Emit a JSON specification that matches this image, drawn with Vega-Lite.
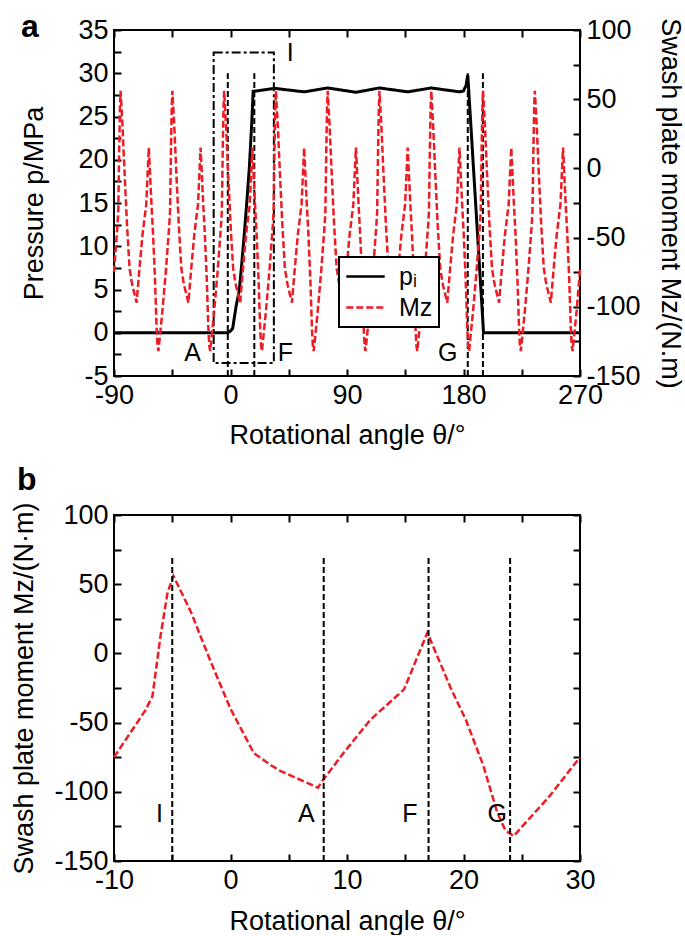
{
  "$schema": "https://vega.github.io/schema/vega-lite/v6.json",
  "padding": {"left": 9, "top": 10, "right": 0, "bottom": 0},
  "config": {
    "font": "Liberation Sans",
    "view": {"stroke": "black", "strokeWidth": 2},
    "axis": {
      "domain": false, "grid": false, "tickColor": "black", "tickWidth": 2, "tickSize": -7, "zindex": 1,
      "labelFontSize": 27, "labelColor": "black", "labelPadding": 13, "labelFlush": false,
      "labelOverlap": false, "labelBound": false,
      "titleFontSize": 27, "titleFontWeight": "normal", "titleColor": "black"
    },
    "title": {"fontSize": 32, "fontWeight": "bold", "anchor": "start", "frame": "bounds", "color": "black"},
    "legend": {"strokeWidth": 2}
  },
  "datasets": {
    "mz": [
      {"angle": -90, "mz": -75}, {"angle": -87.3, "mz": -41}, {"angle": -86.7, "mz": -31}, {"angle": -86, "mz": 13}, {"angle": -85.4, "mz": 44},
      {"angle": -84.9, "mz": 56}, {"angle": -83.4, "mz": 30}, {"angle": -81.7, "mz": -6}, {"angle": -80, "mz": -40}, {"angle": -78, "mz": -72},
      {"angle": -76.5, "mz": -81}, {"angle": -75.7, "mz": -85}, {"angle": -72.5, "mz": -97}, {"angle": -72.1, "mz": -92}, {"angle": -70.3, "mz": -72},
      {"angle": -68, "mz": -48}, {"angle": -65.1, "mz": -26}, {"angle": -63.1, "mz": 15}, {"angle": -61.1, "mz": -25}, {"angle": -59.8, "mz": -48},
      {"angle": -58.3, "mz": -81}, {"angle": -57.1, "mz": -115}, {"angle": -56.4, "mz": -128}, {"angle": -55.7, "mz": -132}, {"angle": -52.6, "mz": -103},
      {"angle": -50, "mz": -75}, {"angle": -47.3, "mz": -41}, {"angle": -46.7, "mz": -31}, {"angle": -46, "mz": 13}, {"angle": -45.4, "mz": 44},
      {"angle": -44.9, "mz": 56}, {"angle": -43.4, "mz": 30}, {"angle": -41.7, "mz": -6}, {"angle": -40, "mz": -40}, {"angle": -38, "mz": -72},
      {"angle": -36.5, "mz": -81}, {"angle": -35.7, "mz": -85}, {"angle": -32.5, "mz": -97}, {"angle": -32.1, "mz": -92}, {"angle": -30.3, "mz": -72},
      {"angle": -28, "mz": -48}, {"angle": -25.1, "mz": -26}, {"angle": -23.1, "mz": 15}, {"angle": -21.1, "mz": -25}, {"angle": -19.8, "mz": -48},
      {"angle": -18.3, "mz": -81}, {"angle": -17.1, "mz": -115}, {"angle": -16.4, "mz": -128}, {"angle": -15.7, "mz": -132}, {"angle": -12.6, "mz": -103},
      {"angle": -10, "mz": -75}, {"angle": -7.3, "mz": -41}, {"angle": -6.7, "mz": -31}, {"angle": -6, "mz": 13}, {"angle": -5.4, "mz": 44},
      {"angle": -4.9, "mz": 56}, {"angle": -3.4, "mz": 30}, {"angle": -1.7, "mz": -6}, {"angle": 0, "mz": -40}, {"angle": 2, "mz": -72},
      {"angle": 3.5, "mz": -81}, {"angle": 4.3, "mz": -85}, {"angle": 7.5, "mz": -97}, {"angle": 7.9, "mz": -92}, {"angle": 9.7, "mz": -72},
      {"angle": 12, "mz": -48}, {"angle": 14.9, "mz": -26}, {"angle": 16.9, "mz": 15}, {"angle": 18.9, "mz": -25}, {"angle": 20.2, "mz": -48},
      {"angle": 21.7, "mz": -81}, {"angle": 22.9, "mz": -115}, {"angle": 23.6, "mz": -128}, {"angle": 24.3, "mz": -132}, {"angle": 27.4, "mz": -103},
      {"angle": 30, "mz": -75}, {"angle": 32.7, "mz": -41}, {"angle": 33.3, "mz": -31}, {"angle": 34, "mz": 13}, {"angle": 34.6, "mz": 44},
      {"angle": 35.1, "mz": 56}, {"angle": 36.6, "mz": 30}, {"angle": 38.3, "mz": -6}, {"angle": 40, "mz": -40}, {"angle": 42, "mz": -72},
      {"angle": 43.5, "mz": -81}, {"angle": 44.3, "mz": -85}, {"angle": 47.5, "mz": -97}, {"angle": 47.9, "mz": -92}, {"angle": 49.7, "mz": -72},
      {"angle": 52, "mz": -48}, {"angle": 54.9, "mz": -26}, {"angle": 56.9, "mz": 15}, {"angle": 58.9, "mz": -25}, {"angle": 60.2, "mz": -48},
      {"angle": 61.7, "mz": -81}, {"angle": 62.9, "mz": -115}, {"angle": 63.6, "mz": -128}, {"angle": 64.3, "mz": -132}, {"angle": 67.4, "mz": -103},
      {"angle": 70, "mz": -75}, {"angle": 72.7, "mz": -41}, {"angle": 73.3, "mz": -31}, {"angle": 74, "mz": 13}, {"angle": 74.6, "mz": 44},
      {"angle": 75.1, "mz": 56}, {"angle": 76.6, "mz": 30}, {"angle": 78.3, "mz": -6}, {"angle": 80, "mz": -40}, {"angle": 82, "mz": -72},
      {"angle": 83.5, "mz": -81}, {"angle": 84.3, "mz": -85}, {"angle": 87.5, "mz": -97}, {"angle": 87.9, "mz": -92}, {"angle": 89.7, "mz": -72},
      {"angle": 92, "mz": -48}, {"angle": 94.9, "mz": -26}, {"angle": 96.9, "mz": 15}, {"angle": 98.9, "mz": -25}, {"angle": 100.2, "mz": -48},
      {"angle": 101.7, "mz": -81}, {"angle": 102.9, "mz": -115}, {"angle": 103.6, "mz": -128}, {"angle": 104.3, "mz": -132}, {"angle": 107.4, "mz": -103},
      {"angle": 110, "mz": -75}, {"angle": 112.7, "mz": -41}, {"angle": 113.3, "mz": -31}, {"angle": 114, "mz": 13}, {"angle": 114.6, "mz": 44},
      {"angle": 115.1, "mz": 56}, {"angle": 116.6, "mz": 30}, {"angle": 118.3, "mz": -6}, {"angle": 120, "mz": -40}, {"angle": 122, "mz": -72},
      {"angle": 123.5, "mz": -81}, {"angle": 124.3, "mz": -85}, {"angle": 127.5, "mz": -97}, {"angle": 127.9, "mz": -92}, {"angle": 129.7, "mz": -72},
      {"angle": 132, "mz": -48}, {"angle": 134.9, "mz": -26}, {"angle": 136.9, "mz": 15}, {"angle": 138.9, "mz": -25}, {"angle": 140.2, "mz": -48},
      {"angle": 141.7, "mz": -81}, {"angle": 142.9, "mz": -115}, {"angle": 143.6, "mz": -128}, {"angle": 144.3, "mz": -132}, {"angle": 147.4, "mz": -103},
      {"angle": 150, "mz": -75}, {"angle": 152.7, "mz": -41}, {"angle": 153.3, "mz": -31}, {"angle": 154, "mz": 13}, {"angle": 154.6, "mz": 44},
      {"angle": 155.1, "mz": 56}, {"angle": 156.6, "mz": 30}, {"angle": 158.3, "mz": -6}, {"angle": 160, "mz": -40}, {"angle": 162, "mz": -72},
      {"angle": 163.5, "mz": -81}, {"angle": 164.3, "mz": -85}, {"angle": 167.5, "mz": -97}, {"angle": 167.9, "mz": -92}, {"angle": 169.7, "mz": -72},
      {"angle": 172, "mz": -48}, {"angle": 174.9, "mz": -26}, {"angle": 176.9, "mz": 15}, {"angle": 178.9, "mz": -25}, {"angle": 180.2, "mz": -48},
      {"angle": 181.7, "mz": -81}, {"angle": 182.9, "mz": -115}, {"angle": 183.6, "mz": -128}, {"angle": 184.3, "mz": -132}, {"angle": 187.4, "mz": -103},
      {"angle": 190, "mz": -75}, {"angle": 192.7, "mz": -41}, {"angle": 193.3, "mz": -31}, {"angle": 194, "mz": 13}, {"angle": 194.6, "mz": 44},
      {"angle": 195.1, "mz": 56}, {"angle": 196.6, "mz": 30}, {"angle": 198.3, "mz": -6}, {"angle": 200, "mz": -40}, {"angle": 202, "mz": -72},
      {"angle": 203.5, "mz": -81}, {"angle": 204.3, "mz": -85}, {"angle": 207.5, "mz": -97}, {"angle": 207.9, "mz": -92}, {"angle": 209.7, "mz": -72},
      {"angle": 212, "mz": -48}, {"angle": 214.9, "mz": -26}, {"angle": 216.9, "mz": 15}, {"angle": 218.9, "mz": -25}, {"angle": 220.2, "mz": -48},
      {"angle": 221.7, "mz": -81}, {"angle": 222.9, "mz": -115}, {"angle": 223.6, "mz": -128}, {"angle": 224.3, "mz": -132}, {"angle": 227.4, "mz": -103},
      {"angle": 230, "mz": -75}, {"angle": 232.7, "mz": -41}, {"angle": 233.3, "mz": -31}, {"angle": 234, "mz": 13}, {"angle": 234.6, "mz": 44},
      {"angle": 235.1, "mz": 56}, {"angle": 236.6, "mz": 30}, {"angle": 238.3, "mz": -6}, {"angle": 240, "mz": -40}, {"angle": 242, "mz": -72},
      {"angle": 243.5, "mz": -81}, {"angle": 244.3, "mz": -85}, {"angle": 247.5, "mz": -97}, {"angle": 247.9, "mz": -92}, {"angle": 249.7, "mz": -72},
      {"angle": 252, "mz": -48}, {"angle": 254.9, "mz": -26}, {"angle": 256.9, "mz": 15}, {"angle": 258.9, "mz": -25}, {"angle": 260.2, "mz": -48},
      {"angle": 261.7, "mz": -81}, {"angle": 262.9, "mz": -115}, {"angle": 263.6, "mz": -128}, {"angle": 264.3, "mz": -132}, {"angle": 267.4, "mz": -103},
      {"angle": 270, "mz": -73}
    ],
    "pressure": [
      {"angle": -90, "p": 0}, {"angle": -2.1, "p": 0}, {"angle": 0, "p": 0.2}, {"angle": 1.7, "p": 0.5}, {"angle": 3, "p": 1.8},
      {"angle": 4.5, "p": 3.2}, {"angle": 6.8, "p": 4.9}, {"angle": 8.7, "p": 8}, {"angle": 10.7, "p": 11.5}, {"angle": 12.7, "p": 15.3},
      {"angle": 14.6, "p": 19.2}, {"angle": 16.5, "p": 24.5}, {"angle": 17.5, "p": 27.9}, {"angle": 34, "p": 28.25}, {"angle": 57, "p": 27.85},
      {"angle": 75, "p": 28.3}, {"angle": 97, "p": 27.8}, {"angle": 115, "p": 28.3}, {"angle": 137, "p": 27.85}, {"angle": 155, "p": 28.3},
      {"angle": 177, "p": 27.85}, {"angle": 180, "p": 27.95}, {"angle": 182, "p": 28.6}, {"angle": 183.3, "p": 29.8}, {"angle": 195.5, "p": 0},
      {"angle": 270, "p": 0}
    ],
    "rulesA": [
      {"angle": -2.1, "p": -5, "p2": 30}, {"angle": 18.4, "p": -5, "p2": 30},
      {"angle": 183.3, "p": -5, "p2": 30}, {"angle": 195, "p": -5, "p2": 30}
    ],
    "boxA": [{"angle": -13, "angle2": 33.5, "p": -3.5, "p2": 32.4}],
    "textA": [
      {"angle": -29.2, "p": -2.3, "label": "A"}, {"angle": 42.4, "p": -2.3, "label": "F"},
      {"angle": 167.9, "p": -2.3, "label": "G"}, {"angle": 46.2, "p": 32.3, "label": "I"}
    ],
    "rulesB": [
      {"angle": -5, "mz": -150, "mz2": 70}, {"angle": 8, "mz": -150, "mz2": 70},
      {"angle": 17, "mz": -150, "mz2": 70}, {"angle": 24, "mz": -150, "mz2": 70}
    ],
    "textB": [
      {"angle": -6.1, "mz": -116, "label": "I"}, {"angle": 6.5, "mz": -116, "label": "A"},
      {"angle": 15.4, "mz": -116, "label": "F"}, {"angle": 22.9, "mz": -116, "label": "G"}
    ]
  },
  "spacing": 14,
  "vconcat": [
    {
      "title": {"text": "a", "offset": -28},
      "width": 466,
      "height": 346,
      "resolve": {"scale": {"y": "independent"}, "axis": {"x": "independent"}},
      "layer": [
        {
          "encoding": {
            "x": {
              "field": "angle", "type": "quantitative",
              "scale": {"domain": [-90, 270], "nice": false, "zero": false},
              "axis": {
                "values": [-90, -45, 0, 45, 90, 135, 180, 225, 270],
                "labelExpr": "datum.value % 90 === 0 ? '' + datum.value : ''",
                "title": "Rotational angle θ/°", "titlePadding": 14
              }
            },
            "y": {
              "field": "p", "type": "quantitative",
              "scale": {"domain": [-5, 35], "nice": false, "zero": false},
              "axis": {
                "values": [-5, -2.5, 0, 2.5, 5, 7.5, 10, 12.5, 15, 17.5, 20, 22.5, 25, 27.5, 30, 32.5, 35],
                "labelExpr": "datum.value % 5 === 0 ? '' + datum.value : ''",
                "title": "Pressure p/MPa", "titlePadding": 29
              }
            }
          },
          "layer": [
            {
              "data": {"name": "boxA"},
              "mark": {"type": "rect", "filled": false, "color": "black", "strokeWidth": 2, "strokeDash": [9, 3, 3, 3]},
              "encoding": {"x2": {"field": "angle2"}, "y2": {"field": "p2"}}
            },
            {
              "data": {"name": "rulesA"},
              "mark": {"type": "rule", "color": "black", "strokeWidth": 2, "strokeDash": [6, 3]},
              "encoding": {"y2": {"field": "p2"}}
            },
            {
              "data": {"name": "pressure"},
              "mark": {"type": "line", "strokeWidth": 3},
              "encoding": {
                "color": {
                  "datum": "pᵢ", "type": "nominal",
                  "scale": {"domain": ["pᵢ", "Mz"], "range": ["black", "#ec1c24"]},
                  "legend": {
                    "orient": "none", "legendX": 225, "legendY": 227, "title": null,
                    "symbolType": "M-1.6,0H1.6", "symbolSize": 576, "symbolStrokeWidth": 2.5, "symbolOffset": 7,
                    "labelFontSize": 25, "labelColor": "black", "labelOffset": 20,
                    "strokeColor": "black", "fillColor": "white", "padding": 6, "rowPadding": 4
                  }
                },
                "strokeDash": {
                  "datum": "pᵢ", "type": "nominal",
                  "scale": {"domain": ["pᵢ", "Mz"], "range": [[1, 0], [7, 3]]},
                  "legend": {
                    "orient": "none", "legendX": 225, "legendY": 227, "title": null,
                    "symbolType": "M-1.6,0H1.6", "symbolSize": 576, "symbolStrokeWidth": 2.5, "symbolOffset": 7,
                    "labelFontSize": 25, "labelColor": "black", "labelOffset": 20,
                    "strokeColor": "black", "fillColor": "white", "padding": 6, "rowPadding": 4
                  }
                }
              }
            },
            {
              "data": {"name": "textA"},
              "mark": {"type": "text", "fontSize": 25, "color": "black", "align": "center", "baseline": "middle"},
              "encoding": {"text": {"field": "label"}}
            }
          ]
        },
        {
          "data": {"name": "mz"},
          "mark": {"type": "line", "strokeWidth": 2.5},
          "encoding": {
            "x": {
              "field": "angle", "type": "quantitative",
              "scale": {"domain": [-90, 270], "nice": false, "zero": false},
              "axis": {"orient": "top", "values": [-90, -45, 0, 45, 90, 135, 180, 225, 270], "labels": false, "title": null}
            },
            "y": {
              "field": "mz", "type": "quantitative",
              "scale": {"domain": [-150, 100], "nice": false, "zero": false},
              "axis": {
                "orient": "right",
                "values": [-150, -125, -100, -75, -50, -25, 0, 25, 50, 75, 100],
                "labelExpr": "datum.value % 50 === 0 ? '' + datum.value : ''",
                "title": "Swash plate moment Mz/(N.m)", "titlePadding": 15
              }
            },
            "color": {"datum": "Mz", "type": "nominal"},
            "strokeDash": {"datum": "Mz", "type": "nominal"}
          }
        }
      ]
    },
    {
      "title": {"text": "b", "offset": 4, "dx": 6},
      "width": 466,
      "height": 346,
      "resolve": {"axis": {"x": "independent", "y": "independent"}},
      "layer": [
        {
          "data": {"name": "mz"},
          "transform": [{"filter": "datum.angle >= -10 && datum.angle <= 30"}],
          "mark": {"type": "line", "strokeWidth": 2.5, "color": "#ec1c24", "strokeDash": [7, 3]},
          "encoding": {
            "x": {
              "field": "angle", "type": "quantitative",
              "scale": {"domain": [-10, 30], "nice": false, "zero": false},
              "axis": {
                "values": [-10, -5, 0, 5, 10, 15, 20, 25, 30],
                "labelExpr": "datum.value % 10 === 0 ? '' + datum.value : ''",
                "title": "Rotational angle θ/°", "titlePadding": 15
              }
            },
            "y": {
              "field": "mz", "type": "quantitative",
              "scale": {"domain": [-150, 100], "nice": false, "zero": false},
              "axis": {
                "values": [-150, -125, -100, -75, -50, -25, 0, 25, 50, 75, 100],
                "labelExpr": "datum.value % 50 === 0 ? '' + datum.value : ''",
                "title": "Swash plate moment Mz/(N·m)", "titlePadding": 15
              }
            }
          }
        },
        {
          "data": {"name": "rulesB"},
          "mark": {"type": "rule", "color": "black", "strokeWidth": 2, "strokeDash": [6, 3]},
          "encoding": {
            "x": {
              "field": "angle", "type": "quantitative",
              "axis": {"orient": "top", "values": [-10, -5, 0, 5, 10, 15, 20, 25, 30], "labels": false, "title": null}
            },
            "y": {
              "field": "mz", "type": "quantitative",
              "axis": {"orient": "right", "values": [-150, -125, -100, -75, -50, -25, 0, 25, 50, 75, 100], "labels": false, "title": null}
            },
            "y2": {"field": "mz2"}
          }
        },
        {
          "data": {"name": "textB"},
          "mark": {"type": "text", "fontSize": 25, "color": "black", "align": "center", "baseline": "middle"},
          "encoding": {
            "x": {"field": "angle", "type": "quantitative", "axis": null},
            "y": {"field": "mz", "type": "quantitative", "axis": null},
            "text": {"field": "label"}
          }
        }
      ]
    }
  ]
}
